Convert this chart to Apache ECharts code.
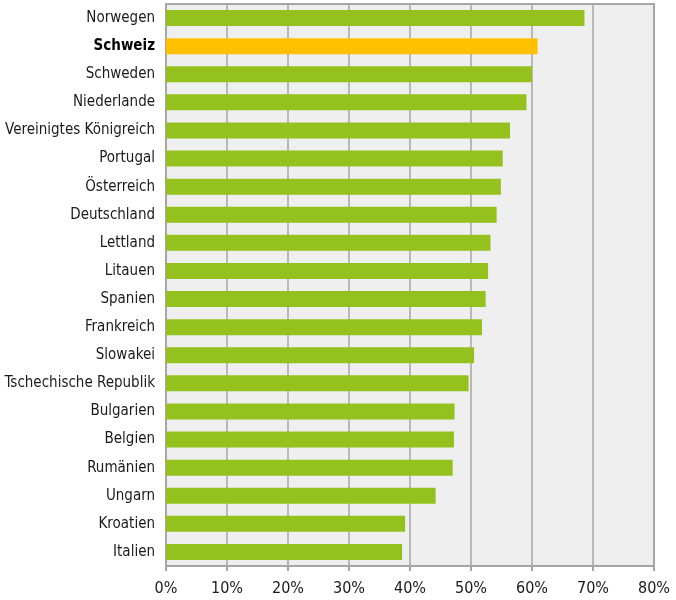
<!DOCTYPE html>
<html><head><meta charset="utf-8">
<script src="https://cdn.jsdelivr.net/npm/echarts@6/dist/echarts.min.js"></script>
<style>html,body{margin:0;padding:0;background:#fff}#c{width:676px;height:600px}</style>
</head><body><div id="c"></div>
<script>
const categories = ["Norwegen","Schweiz","Schweden","Niederlande","Vereinigtes Königreich","Portugal","Österreich","Deutschland","Lettland","Litauen","Spanien","Frankreich","Slowakei","Tschechische Republik","Bulgarien","Belgien","Rumänien","Ungarn","Kroatien","Italien"];
const values = [68.6,60.9,60.0,59.1,56.4,55.2,54.9,54.2,53.2,52.8,52.4,51.8,50.5,49.6,47.3,47.2,47.0,44.2,39.2,38.7];
const highlight = "Schweiz";
const xTicks = [0,10,20,30,40,50,60,70,80];

const FONT = '"Liberation Sans Narrow", "DejaVu Sans Condensed", "Liberation Sans", sans-serif';
const chart = echarts.init(document.getElementById('c'), null, {renderer:'canvas'});
chart.setOption({
  animation:false,
  grid:{left:166,right:22,top:4,bottom:34,outerBoundsMode:'none',containLabel:false,show:true,backgroundColor:'#efefef',borderColor:'#a6a6a6',borderWidth:2},
  xAxis:{type:'value',min:xTicks[0],max:xTicks[xTicks.length-1],interval:10,
    axisLine:{show:true,lineStyle:{color:'#a6a6a6',width:2}},
    axisTick:{show:true,length:5,lineStyle:{color:'#a6a6a6',width:2}},
    splitLine:{show:true,lineStyle:{color:'#a6a6a6',width:1.5}},
    axisLabel:{formatter:v=>v+'%',color:'#1a1a1a',fontSize:16,fontFamily:FONT,margin:15}},
  yAxis:{type:'category',data:categories,inverse:true,
    axisLine:{show:true,lineStyle:{color:'#a6a6a6',width:2}},
    axisTick:{show:false},
    axisLabel:{color:'#1a1a1a',fontSize:15,fontFamily:FONT,margin:11,
      formatter:v=>v===highlight?'{b|'+v+'}':v,
      rich:{b:{fontWeight:'bold',fontSize:15,fontFamily:FONT,color:'#000'}}}},
  series:[{type:'bar',barCategoryGap:'43%',
    data:values.map((v,i)=>({value:v,itemStyle:{color:categories[i]===highlight?'#ffc000':'#95c11f'}}))}]
});
</script></body></html>
